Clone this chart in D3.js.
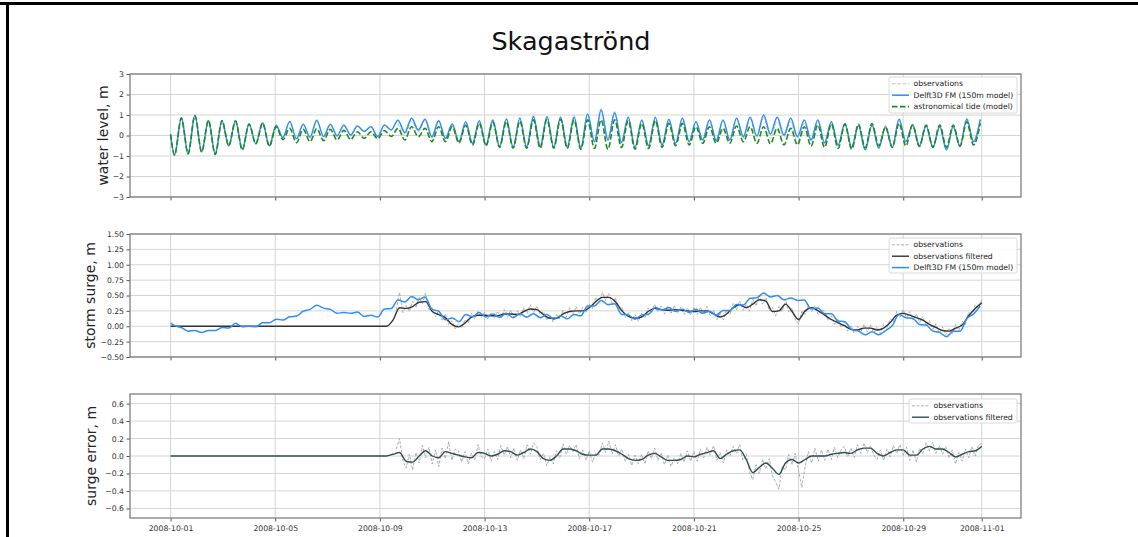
<!DOCTYPE html>
<html>
<head>
<meta charset="utf-8">
<script src="https://cdn.jsdelivr.net/npm/d3@7"></script>
<style>
body { margin: 0; background: #fff; }
svg text { font-family: "DejaVu Sans", sans-serif; }
</style>
</head>
<body>
<svg id="chart" width="1138" height="537"></svg>
<script>
// ---- data ----------------------------------------------------------------
// shared date axis (tick labels as printed)
var tickDates = ['2008-10-01', '2008-10-05', '2008-10-09', '2008-10-13', '2008-10-17',
                 '2008-10-21', '2008-10-25', '2008-10-29', '2008-11-01'];
var waterTicks = [-3, -2, -1, 0, 1, 2, 3];
var surgeTicks = [-0.5, -0.25, 0, 0.25, 0.5, 0.75, 1, 1.25, 1.5];
var errorTicks = [-0.6, -0.4, -0.2, 0, 0.2, 0.4, 0.6];

// water level is read at the tide highs and lows: first high ~0.93 d after
// 2008-10-01 00:00, one high or low every half tide (12.42 h / 2)
var firstHigh = 0.93, halfTide = 0.25875;
var levelDays = [0].concat(d3.range(-3, 117).map(function(j) { return firstHigh + j * halfTide; }));

var tideLevel = [0.05,
  -0.95, 0.85, -0.89, 0.97, -0.8, 0.73, -0.92, 0.72, -0.5, 0.7,
  -0.7, 0.56, -0.4, 0.6, -0.52, 0.42, -0.2, 0.35, -0.35, 0.3,
  -0.3, 0.33, -0.25, 0.3, -0.22, 0.25, -0.2, 0.18, -0.14, 0.18,
  -0.15, 0.24, -0.05, 0.35, -0.22, 0.43, -0.06, 0.35, -0.3, 0.43,
  -0.3, 0.43, -0.36, 0.5, -0.46, 0.6, -0.5, 0.65, -0.58, 0.68,
  -0.62, 0.7, -0.62, 0.76, -0.62, 0.78, -0.62, 0.79, -0.62, 0.76,
  -0.67, 0.76, -0.63, 0.76, -0.67, 0.76, -0.58, 0.72, -0.67, 0.59,
  -0.63, 0.72, -0.58, 0.59, -0.5, 0.59, -0.46, 0.43, -0.38, 0.43,
  -0.38, 0.35, -0.38, 0.46, -0.3, 0.43, -0.38, 0.43, -0.41, 0.35,
  -0.46, 0.35, -0.46, 0.43, -0.51, 0.51, -0.58, 0.56, -0.63, 0.56,
  -0.67, 0.55, -0.6, 0.58, -0.5, 0.4, -0.58, 0.59, -0.51, 0.51,
  -0.54, 0.51, -0.58, 0.51, -0.58, 0.51, -0.51, 0.67, -0.46, 0.59];

var modelLevel = [0.05,
  -0.95, 0.85, -0.89, 0.97, -0.8, 0.73, -0.9, 0.72, -0.5, 0.72,
  -0.68, 0.56, -0.4, 0.62, -0.5, 0.5, -0.1, 0.68, -0.15, 0.55,
  -0.08, 0.75, -0.05, 0.55, -0.02, 0.5, 0.02, 0.46, 0.2, 0.43,
  -0.05, 0.51, 0.27, 0.75, 0.14, 0.84, 0.27, 0.79, -0.06, 0.72,
  -0.14, 0.56, -0.3, 0.67, -0.38, 0.72, -0.46, 0.76, -0.54, 0.8,
  -0.58, 0.84, -0.58, 0.92, -0.56, 0.92, -0.58, 0.89, -0.58, 0.89,
  -0.63, 1.05, -0.3, 1.24, -0.22, 1.11, -0.35, 0.89, -0.58, 0.76,
  -0.51, 0.89, -0.46, 0.79, -0.38, 0.84, -0.3, 0.67, -0.22, 0.76,
  -0.25, 0.76, -0.22, 0.84, -0.06, 0.89, -0.02, 1.0, 0.07, 0.89,
  0.02, 0.84, -0.06, 0.76, -0.22, 0.76, -0.35, 0.67, -0.46, 0.59,
  -0.58, 0.48, -0.7, 0.5, -0.62, 0.43, -0.58, 0.79, -0.3, 0.51,
  -0.51, 0.46, -0.58, 0.43, -0.71, 0.43, -0.54, 0.79, -0.3, 0.79];

// observed level, only from 2008-10-09 on (aligned with the end of levelDays)
var obsLevel = [
  0.6, 0.02, 0.7, 0.19, 0.75, -0.13, 0.72, -0.14, 0.49, -0.42,
  0.57, -0.41, 0.7, -0.46, 0.76, -0.53, 0.82, -0.55, 0.88, -0.51,
  1.02, -0.47, 0.92, -0.59, 0.91, -0.52, 0.98, -0.58, 1.04, -0.29,
  1.32, -0.13, 1.18, -0.31, 0.89, -0.59, 0.75, -0.49, 0.9, -0.48,
  0.77, -0.38, 0.85, -0.3, 0.66, -0.21, 0.78, -0.25, 0.69, -0.24,
  0.84, -0.11, 0.79, -0.12, 0.9, -0.13, 0.67, -0.08, 0.67, -0.37,
  0.6, -0.23, 0.74, -0.4, 0.6, -0.51, 0.55, -0.6, 0.52, -0.61,
  0.58, -0.56, 0.5, -0.52, 0.82, -0.26, 0.56, -0.43, 0.53, -0.53,
  0.49, -0.64, 0.49, -0.48, 0.85, -0.24, 0.85];

// modelled storm surge, same half-tide sampling as the water level
var modelSurge = [0.05,
  0.01, -0.02, -0.08, -0.07, -0.1, -0.07, -0.07, -0.02, -0.03, 0.05,
  -0.01, 0.0, -0.01, 0.055, 0.055, 0.115, 0.1, 0.155, 0.165, 0.245,
  0.275, 0.34, 0.295, 0.275, 0.21, 0.225, 0.21, 0.23, 0.16, 0.18,
  0.15, 0.28, 0.29, 0.425, 0.395, 0.485, 0.43, 0.475, 0.275, 0.245,
  0.105, 0.135, 0.075, 0.19, 0.155, 0.225, 0.15, 0.2, 0.145, 0.21,
  0.14, 0.205, 0.15, 0.205, 0.14, 0.19, 0.115, 0.17, 0.12, 0.19,
  0.17, 0.33, 0.33, 0.42, 0.35, 0.365, 0.195, 0.185, 0.115, 0.185,
  0.195, 0.305, 0.265, 0.305, 0.24, 0.275, 0.225, 0.275, 0.21, 0.245,
  0.18, 0.255, 0.255, 0.355, 0.345, 0.455, 0.465, 0.54, 0.475, 0.5,
  0.43, 0.46, 0.42, 0.425, 0.285, 0.295, 0.205, 0.205, 0.085, 0.075,
  -0.055, -0.08, -0.14, -0.09, -0.14, -0.07, 0.01, 0.19, 0.14, 0.13,
  0.03, 0.02, -0.08, -0.1, -0.17, -0.08, -0.08, 0.12, 0.2, 0.33];

// filtered series every 6 h from 2008-10-01 00:00
var filtDays = d3.range(0, 31.001, 0.25);
var surgeFiltered = [
  0, 0, 0, 0, 0, 0, 0, 0, 0, 0, 0, 0, 0, 0, 0, 0, 0,
  0, 0, 0, 0, 0, 0, 0, 0, 0, 0, 0, 0, 0, 0, 0, 0, 0,
  0.1, 0.3, 0.29, 0.32, 0.39, 0.4, 0.24, 0.19, 0.14, 0.03,
  -0.01, 0.05, 0.15, 0.18, 0.18, 0.17, 0.17, 0.2, 0.2, 0.19,
  0.24, 0.28, 0.27, 0.19, 0.13, 0.13, 0.2, 0.24, 0.25, 0.25,
  0.3, 0.4, 0.47, 0.47, 0.4, 0.25, 0.16, 0.13, 0.15, 0.24,
  0.29, 0.27, 0.26, 0.27, 0.26, 0.25, 0.24, 0.25, 0.25, 0.2,
  0.15, 0.2, 0.3, 0.35, 0.3, 0.36, 0.43, 0.41, 0.24, 0.25,
  0.36, 0.24, 0.11, 0.25, 0.3, 0.25, 0.18, 0.11, 0.06, 0.01,
  -0.05, -0.06, -0.03, -0.03, -0.06, -0.03, 0.06, 0.18, 0.21, 0.18,
  0.14, 0.1, 0.03, -0.02, -0.07, -0.08, -0.03, 0.02, 0.17, 0.29,
  0.38];
var errorFiltered = [
  0, 0, 0, 0, 0, 0, 0, 0, 0, 0, 0, 0, 0, 0, 0, 0, 0,
  0, 0, 0, 0, 0, 0, 0, 0, 0, 0, 0, 0, 0, 0, 0, 0, 0,
  0.02, 0.04, -0.06, -0.07, 0.0, 0.06, 0.0, -0.02, 0.05, 0.03,
  0.01, -0.01, -0.02, 0.04, 0.03, 0.0, 0.02, 0.06, 0.05, 0.01,
  0.04, 0.08, 0.05, -0.03, -0.05, 0.0, 0.08, 0.08, 0.06, 0.02,
  0.01, 0.01, 0.08, 0.08, 0.06, 0.02, -0.03, -0.05, -0.04, 0.01,
  0.03, -0.01, -0.05, -0.05, -0.04, 0.0, -0.01, 0.02, 0.04, 0.06,
  -0.03, 0.02, 0.06, 0.07, -0.04, -0.19, -0.13, -0.08, -0.14, -0.21,
  -0.08, -0.04, -0.08, -0.04, 0.0, 0.0, 0.0, 0.02, 0.03, 0.04,
  0.03, 0.07, 0.09, 0.09, 0.03, 0.0, 0.04, 0.07, 0.07, 0.01,
  0.01, 0.08, 0.11, 0.08, 0.08, 0.04, -0.01, 0.02, 0.05, 0.06,
  0.11];

// raw observations every 3 h from 2008-10-09 15:00
var rawDays = d3.range(8.625, 31.001, 0.125);
var surgeObs = [0.27, 0.55, 0.22,
  0.34, 0.24, 0.41, 0.30, 0.47, 0.36, 0.54, 0.27,
  0.30, 0.15, 0.26, 0.10, 0.20, 0.03, 0.09, -0.04,
  0.04, -0.03, 0.11, 0.05, 0.21, 0.12, 0.24, 0.14,
  0.23, 0.12, 0.22, 0.13, 0.24, 0.14, 0.27, 0.15,
  0.26, 0.14, 0.25, 0.16, 0.30, 0.21, 0.35, 0.22,
  0.33, 0.19, 0.24, 0.10, 0.17, 0.07, 0.19, 0.12,
  0.26, 0.15, 0.30, 0.19, 0.32, 0.20, 0.31, 0.22,
  0.36, 0.29, 0.47, 0.38, 0.55, 0.42, 0.53, 0.37,
  0.46, 0.26, 0.31, 0.14, 0.22, 0.09, 0.19, 0.08,
  0.21, 0.13, 0.30, 0.21, 0.36, 0.23, 0.33, 0.20,
  0.32, 0.20, 0.34, 0.21, 0.31, 0.19, 0.30, 0.18,
  0.30, 0.19, 0.31, 0.20, 0.32, 0.17, 0.26, 0.11,
  0.21, 0.10, 0.26, 0.19, 0.37, 0.27, 0.41, 0.26,
  0.36, 0.25, 0.44, 0.33, 0.50, 0.36, 0.47, 0.25,
  0.31, 0.17, 0.32, 0.24, 0.44, 0.23, 0.30, 0.10,
  0.04, 0.24, 0.19, 0.34, 0.24, 0.33, 0.19, 0.27,
  0.24, 0.09, 0.17, 0.03, 0.12, -0.02, 0.07, -0.08,
  0.01, -0.11, 0.0, -0.10, 0.03, -0.09, 0.02, -0.11,
  -0.01, -0.12, 0.03, -0.04, 0.12, 0.07, 0.24, 0.14,
  0.27, 0.14, 0.24, 0.10, 0.20, 0.06, 0.16, 0.01,
  0.09, -0.05, 0.04, -0.11, -0.01, -0.14, -0.03, -0.12,
  0.03, -0.07, 0.08, 0.03, 0.23, 0.17, 0.35, 0.29,
  0.43];
var errorObs = [0.08, 0.20, -0.05,
  -0.14, 0.02, -0.16, 0.04, -0.08, 0.12, -0.02, 0.10,
  -0.09, 0.07, -0.12, 0.09, -0.03, 0.16, -0.05, 0.08,
  0.06, -0.07, 0.05, -0.09, 0.03, -0.04, 0.13, -0.01,
  -0.03, 0.08, -0.06, 0.05, -0.04, 0.12, 0.01, 0.11,
  -0.02, 0.09, -0.05, 0.07, -0.03, 0.13, 0.02, 0.15,
  0.11, -0.04, 0.03, -0.11, -0.01, -0.09, 0.06, -0.02,
  0.14, 0.02, 0.12, 0.05, 0.13, -0.03, 0.07, -0.05,
  0.06, -0.07, 0.03, 0.01, 0.15, 0.04, 0.17, 0.02,
  0.13, 0.0, 0.08, -0.06, 0.02, -0.11, 0.01, -0.09,
  0.02, -0.09, 0.06, -0.03, 0.09, -0.05, 0.04, -0.10,
  0.01, -0.12, -0.02, -0.09, 0.03, -0.07, 0.06, -0.06,
  0.05, -0.06, 0.08, -0.02, 0.10, 0.01, 0.12, -0.05,
  0.04, -0.08, 0.07, 0.0, 0.11, 0.03, 0.13, -0.05,
  0.02, -0.18, -0.27, -0.10, -0.20, -0.04, -0.15, -0.03,
  -0.22, -0.30, -0.38, -0.12, -0.16, 0.02, -0.10, 0.03,
  -0.17, -0.36, -0.12, 0.05, -0.08, 0.09, -0.06, 0.07,
  -0.05, 0.08, -0.04, 0.10, -0.02, 0.07, 0.11, -0.01,
  0.09, -0.02, 0.13, 0.03, 0.15, 0.04, 0.12, 0.01,
  -0.04, 0.07, -0.05, 0.08, -0.01, 0.12, 0.03, 0.13,
  0.01, 0.10, -0.05, 0.07, -0.07, 0.09, 0.03, 0.15,
  0.06, 0.16, 0.03, 0.12, 0.02, 0.11, -0.02, 0.07,
  -0.09, 0.04, -0.06, 0.08, -0.02, 0.11, 0.0, 0.13,
  0.14];

// ---- layout ----------------------------------------------------------------
var svg = d3.select('#chart');
var plotL = 130, plotR = 1021;
var blue = '#2b8ff5', green = '#21891f', slate = '#2f4f4f';

var t0 = Date.UTC(2008, 9, 1);
function toDate(day) { return new Date(t0 + day * 864e5); }
var parseDate = d3.utcParse('%Y-%m-%d');

var x = d3.scaleUtc()
    .domain([toDate(-1.55), toDate(32.5)])
    .range([plotL, plotR]);

// frame lines of the original screenshot
svg.append('rect').attr('x', 0).attr('y', 2).attr('width', 1138).attr('height', 3).attr('fill', '#000');
svg.append('rect').attr('x', 6).attr('y', 2).attr('width', 3).attr('height', 535).attr('fill', '#000');

svg.append('text')
    .attr('x', 571).attr('y', 50)
    .attr('text-anchor', 'middle')
    .style('font-size', '25.5px')
    .attr('fill', '#111')
    .text('Skagaströnd');

function drawPanel(p) {
    var y = d3.scaleLinear().domain(p.domain).range([p.bottom, p.top]);
    var g = svg.append('g');

    // grid
    g.selectAll('.vgrid').data(tickDates).enter().append('line')
        .attr('x1', function(d) { return x(parseDate(d)); })
        .attr('x2', function(d) { return x(parseDate(d)); })
        .attr('y1', p.top).attr('y2', p.bottom)
        .attr('stroke', '#d4d4d4').attr('stroke-width', 1);
    g.selectAll('.hgrid').data(p.ticks).enter().append('line')
        .attr('x1', plotL).attr('x2', plotR)
        .attr('y1', function(d) { return y(d); })
        .attr('y2', function(d) { return y(d); })
        .attr('stroke', '#d4d4d4').attr('stroke-width', 1);

    // series
    p.series.forEach(function(s) {
        var line = d3.line()
            .x(function(d) { return x(toDate(d[0])); })
            .y(function(d) { return y(d[1]); })
            .curve(s.curve || d3.curveLinear);
        var pts = s.values.map(function(v, i) { return [s.days[i], v]; });
        g.append('path')
            .attr('d', line(pts))
            .attr('fill', 'none')
            .attr('stroke', s.color)
            .attr('stroke-width', s.width)
            .attr('stroke-dasharray', s.dash || null)
            .attr('stroke-linejoin', 'round');
    });

    // axes
    var yAxis = g.append('g')
        .attr('transform', 'translate(' + plotL + ',0)')
        .call(d3.axisLeft(y).tickValues(p.ticks).tickFormat(d3.format(p.format))
            .tickSize(3.5).tickSizeOuter(0).tickPadding(2.5));
    var xAxis = g.append('g')
        .attr('transform', 'translate(0,' + p.bottom + ')')
        .call(d3.axisBottom(x).tickValues(tickDates.map(parseDate))
            .tickFormat(p.xLabels ? d3.utcFormat('%Y-%m-%d') : function() { return ''; })
            .tickSize(3.5).tickSizeOuter(0).tickPadding(4));
    [yAxis, xAxis].forEach(function(a) {
        a.select('.domain').remove();
        a.selectAll('line').attr('stroke', '#555');
        a.selectAll('text').attr('fill', '#333').style('font-size', '7.7px')
            .style('font-family', '"DejaVu Sans", sans-serif');
    });

    // spines
    g.append('rect')
        .attr('x', plotL).attr('y', p.top)
        .attr('width', plotR - plotL).attr('height', p.bottom - p.top)
        .attr('fill', 'none').attr('stroke', '#7f7f7f').attr('stroke-width', 1.3);

    // y label
    g.append('text')
        .attr('transform', 'translate(' + p.labelX + ',' + ((p.top + p.bottom) / 2) + ') rotate(-90)')
        .attr('text-anchor', 'middle')
        .style('font-size', '14px')
        .attr('fill', '#222')
        .text(p.label);

    // legend
    var lg = p.legend;
    var box = g.append('g').attr('transform', 'translate(' + lg.x + ',' + lg.y + ')');
    box.append('rect')
        .attr('width', lg.w).attr('height', lg.h).attr('rx', 2)
        .attr('fill', '#fff').attr('fill-opacity', 0.85)
        .attr('stroke', '#d0d0d0').attr('stroke-width', 0.8);
    p.series.forEach(function(s, i) {
        var cy = 6.8 + i * 11.4;
        box.append('line')
            .attr('x1', 3).attr('x2', 20).attr('y1', cy).attr('y2', cy)
            .attr('stroke', s.color).attr('stroke-width', s.width)
            .attr('stroke-dasharray', s.dash || null);
        box.append('text')
            .attr('x', 24.5).attr('y', cy).attr('dy', '0.35em')
            .style('font-size', '7.7px').attr('fill', '#222')
            .text(s.name);
    });
}

var obsDays = levelDays.slice(levelDays.length - obsLevel.length);

drawPanel({
    top: 74, bottom: 197, domain: [-3, 3], ticks: waterTicks, format: 'd',
    label: 'water level, m', labelX: 107.6,
    legend: {x: 889, y: 77, w: 128, h: 36},
    series: [
        {name: 'observations', days: obsDays, values: obsLevel, color: '#c4c4c4', width: 1, dash: '3.7,1.6', curve: d3.curveMonotoneX},
        {name: 'Delft3D FM (150m model)', days: levelDays, values: modelLevel, color: blue, width: 1.5, curve: d3.curveMonotoneX},
        {name: 'astronomical tide (model)', days: levelDays, values: tideLevel, color: green, width: 1.6, dash: '5.5,2.4', curve: d3.curveMonotoneX}
    ]
});

drawPanel({
    top: 234, bottom: 357, domain: [-0.5, 1.5], ticks: surgeTicks, format: '.2f',
    label: 'storm surge, m', labelX: 94.5,
    legend: {x: 889, y: 238, w: 128, h: 35},
    series: [
        {name: 'observations', days: rawDays, values: surgeObs, color: '#9a9a9a', width: 0.8, dash: '3,1.5'},
        {name: 'observations filtered', days: filtDays, values: surgeFiltered, color: '#333', width: 1.4, curve: d3.curveMonotoneX},
        {name: 'Delft3D FM (150m model)', days: levelDays, values: modelSurge, color: blue, width: 1.5, curve: d3.curveMonotoneX}
    ]
});

drawPanel({
    top: 394, bottom: 518, domain: [-0.71, 0.71], ticks: errorTicks, format: '.1f',
    label: 'surge error, m', labelX: 96, xLabels: true,
    legend: {x: 909, y: 399, w: 108, h: 24},
    series: [
        {name: 'observations', days: rawDays, values: errorObs, color: '#9a9a9a', width: 0.8, dash: '3,1.5'},
        {name: 'observations filtered', days: filtDays, values: errorFiltered, color: slate, width: 1.4, curve: d3.curveMonotoneX}
    ]
});
</script>
</body>
</html>
